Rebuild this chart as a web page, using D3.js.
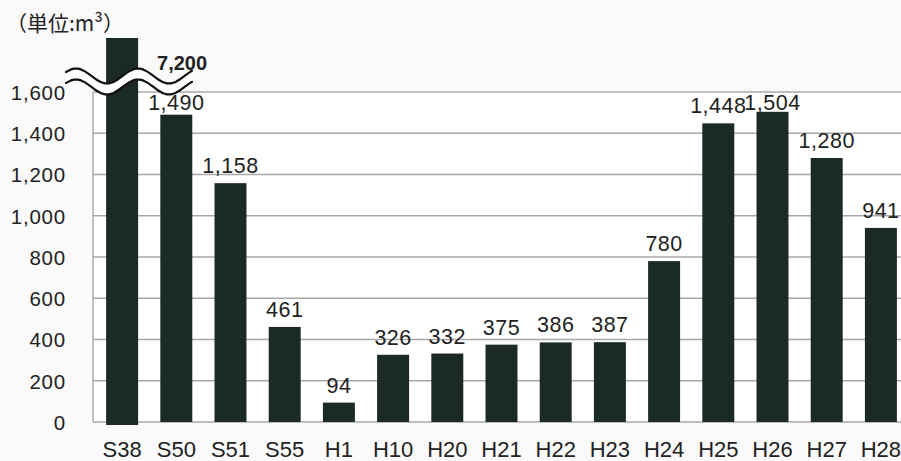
<!DOCTYPE html>
<html>
<head>
<meta charset="utf-8">
<script src="https://cdn.jsdelivr.net/npm/d3@7"></script>
<style>
  html, body { margin: 0; padding: 0; background: #fafafa; }
  svg { display: block; }
</style>
</head>
<body>
<svg id="chart" width="901" height="461"></svg>
<script>
// Annual volume by year (unit: m³)
const years = ["S38", "S50", "S51", "S55", "H1", "H10", "H20", "H21", "H22", "H23", "H24", "H25", "H26", "H27", "H28"];
const volumes = [7200, 1490, 1158, 461, 94, 326, 332, 375, 386, 387, 780, 1448, 1504, 1280, 941];
const valueLabels = ["7,200", "1,490", "1,158", "461", "94", "326", "332", "375", "386", "387", "780", "1,448", "1,504", "1,280", "941"];
const yTicks = [0, 200, 400, 600, 800, 1000, 1200, 1400, 1600];
const unitLabel = "（単位:m³）";
const breakValue = 1600;   // axis is broken above this value

(function draw() {
  const data = years.map((yr, i) => ({ year: yr, value: volumes[i], label: valueLabels[i] }));

  const svg = d3.select("#chart");
  const W = 901;
  const plotLeft = 95, plotRight = 908, plotBottom = 422, plotTop = 92, brokenTop = 38;

  const x = d3.scaleBand()
    .domain(years)
    .range([plotLeft, plotRight])
    .paddingInner(0.41)
    .paddingOuter(0.205);

  // Piecewise scale: linear up to the break, compressed above it
  const y = d3.scaleLinear()
    .domain([0, breakValue, d3.max(volumes)])
    .range([plotBottom, plotTop, brokenTop]);

  const fontLatin = "'Liberation Sans', Arial, sans-serif";
  const barColor = "#1c2a26";
  const gridColor = "#a8a8a8";

  // plot background
  svg.append("rect")
    .attr("x", plotLeft - 2).attr("y", y(breakValue))
    .attr("width", W - plotLeft + 2).attr("height", y(0) - y(breakValue))
    .attr("fill", "#ffffff");

  // horizontal grid lines
  svg.append("g")
    .selectAll("line")
    .data(yTicks)
    .join("line")
    .attr("x1", plotLeft - 2).attr("x2", W)
    .attr("y1", d => y(d)).attr("y2", d => y(d))
    .attr("stroke", gridColor)
    .attr("stroke-width", 1.4);

  // left frame line
  svg.append("line")
    .attr("x1", plotLeft - 2).attr("x2", plotLeft - 2)
    .attr("y1", y(breakValue)).attr("y2", y(0))
    .attr("stroke", gridColor).attr("stroke-width", 1.4);

  // y axis labels
  const yAxis = d3.axisLeft(y).tickValues(yTicks).tickSize(0).tickPadding(0)
    .tickFormat(d3.format(","));
  svg.append("g")
    .attr("transform", "translate(66,0)")
    .call(yAxis)
    .call(g => g.select(".domain").remove())
    .call(g => g.selectAll("text")
      .attr("font-family", fontLatin)
      .attr("font-size", 20.5)
      .attr("letter-spacing", 0.8)
      .attr("fill", "#222")
      .attr("dy", "0.36em"));

  // bars
  svg.append("g")
    .selectAll("rect")
    .data(data)
    .join("rect")
    .attr("x", d => x(d.year))
    .attr("width", x.bandwidth())
    .attr("y", d => y(d.value))
    .attr("height", d => y(0) - y(d.value) + (d.value > breakValue ? 3 : 0))
    .attr("fill", barColor);

  // break mark: two wavy lines with a white band between them
  const waveTop = y(breakValue) - 16;
  const waveGap = 11;
  const waveXs = d3.range(66, 193, 2);
  const wave = (c) => waveXs.map(px => [px, c - 7.5 * Math.cos(2 * Math.PI * (px - 76) / 62)]);
  const upper = wave(waveTop);
  const lower = wave(waveTop + waveGap);
  svg.append("path")
    .attr("d", d3.line()(upper.concat(lower.slice().reverse())) + "Z")
    .attr("fill", "#ffffff");
  [upper, lower].forEach(pts => {
    svg.append("path")
      .attr("d", d3.line().curve(d3.curveBasis)(pts))
      .attr("fill", "none")
      .attr("stroke", "#111")
      .attr("stroke-width", 2.2)
      .attr("stroke-linecap", "round");
  });

  // value labels
  svg.append("g")
    .selectAll("text")
    .data(data)
    .join("text")
    .attr("x", d => d.value > breakValue ? x(d.year) + x.bandwidth() + 44 : x(d.year) + x.bandwidth() / 2)
    .attr("y", d => {
      if (d.value > breakValue) return waveTop - 6;
      const base = y(d.value) - 10;
      return Math.max(base, y(breakValue) + 18);
    })
    .attr("text-anchor", "middle")
    .attr("font-family", fontLatin)
    .attr("font-size", d => d.value > breakValue ? 20 : 21.5)
    .attr("letter-spacing", d => d.value > breakValue ? 0 : 0.5)
    .attr("font-weight", d => d.value > breakValue ? "bold" : "normal")
    .attr("fill", "#222")
    .text(d => d.label);

  // x axis labels
  const xAxis = d3.axisBottom(x).tickSize(0).tickPadding(0);
  svg.append("g")
    .attr("transform", "translate(0,457)")
    .call(xAxis)
    .call(g => g.select(".domain").remove())
    .call(g => g.selectAll("text")
      .attr("font-family", fontLatin)
      .attr("font-size", 22)
      .attr("fill", "#222")
      .attr("dy", 0));

  // unit caption
  svg.append("text")
    .attr("x", 6).attr("y", 31)
    .attr("font-family", "'Noto Sans CJK JP', sans-serif")
    .attr("font-size", 21)
    .attr("fill", "#222")
    .text(unitLabel);
})();
</script>
</body>
</html>
